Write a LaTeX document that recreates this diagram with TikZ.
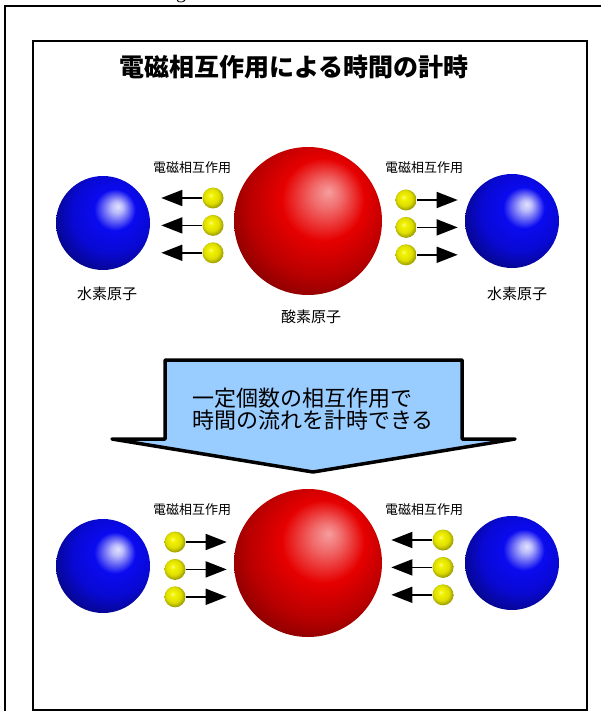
\documentclass[tikz,border=0pt]{standalone}
\usepackage{fontspec}
\newfontfamily\jp{Noto Sans CJK JP}
\newfontfamily\latin{Liberation Serif}
\usepackage{xcolor}
\usepackage{tikz}
\usetikzlibrary{arrows.meta,positioning}
\definecolor{ink}{HTML}{000000}
\definecolor{hblue}{HTML}{0A0AF0}
\definecolor{ored}{HTML}{E60000}
\definecolor{ylw}{HTML}{F2F200}
\definecolor{skyfill}{HTML}{99CCFF}
% spheres lit from the upper right
\pgfdeclareradialshading{hydrogen}{\pgfpoint{8bp}{9bp}}{%
  color(0bp)=(white!88!hblue); color(3bp)=(white!72!hblue);
  color(11bp)=(hblue); color(21bp)=(hblue!88!black);
  color(33bp)=(hblue!50!black); color(50bp)=(hblue!50!black)}
\pgfdeclareradialshading{oxygen}{\pgfpoint{7bp}{10bp}}{%
  color(0bp)=(white!62!ored); color(5bp)=(white!42!ored);
  color(14bp)=(ored); color(24bp)=(ored!80!black);
  color(36bp)=(ored!45!black); color(50bp)=(ored!45!black)}
\pgfdeclareradialshading{photonball}{\pgfpoint{-6bp}{7bp}}{%
  color(0bp)=(white!55!ylw); color(6bp)=(ylw); color(18bp)=(ylw!92!black);
  color(28bp)=(ylw!62!black); color(50bp)=(ylw!62!black)}
\tikzset{
  boxframe/.style={draw=ink,line width=2pt},
  hatom/.style={circle,minimum size=94pt,inner sep=0pt,shading=hydrogen},
  oatom/.style={circle,minimum size=148pt,inner sep=0pt,shading=oxygen},
  photon/.style={circle,minimum size=21pt,inner sep=0pt,shading=photonball},
  force/.style={-{Triangle[length=21pt,width=16pt]},line width=1.6pt,draw=ink},
  emlabel/.style={font=\jp\fontsize{13}{13}\selectfont,inner sep=0pt},
  atomlabel/.style={font=\jp\fontsize{15}{15}\selectfont,inner sep=0pt},
  bigarrow/.style={draw=ink,fill=skyfill,line width=3.5pt,line join=round}
}

\begin{document}
\begin{tikzpicture}[x=1pt,y=-1pt]
\useasboundingbox (0,0) rectangle (600,711);
\draw[boxframe] (5,6) rectangle (660,770);
\draw[boxframe] (33,41) rectangle (587,710);
\node[anchor=base,font=\latin\fontsize{20}{20}\selectfont] (cut) at (181,-1) {g};
\node[font=\jp\bfseries\fontsize{25}{25}\selectfont] (title) at (294,67) {電磁相互作用による時間の計時};

% oxygen emits towards both hydrogens
\node[hatom] (hl) at (103,223) {};
\node[oatom] (o) at (308,221) {};
\node[hatom] (hr) at (512,221) {};
\node[atomlabel,below=16pt of hl,xshift=4pt] (hllab) {水素原子};
\node[atomlabel,below=14pt of o,xshift=3pt] (olab) {酸素原子};
\node[atomlabel,below=18pt of hr,xshift=5pt] (hrlab) {水素原子};
\node[emlabel] (ema) at (192,168) {電磁相互作用};
\node[emlabel] (emb) at (424,168) {電磁相互作用};
\node[photon] (pa1) at (213,198) {};
\node[photon,below=6pt of pa1] (pa2) {};
\node[photon,below=6pt of pa2] (pa3) {};
\coordinate[left=41pt of pa1] (ta1);
\coordinate[left=41pt of pa2] (ta2);
\coordinate[left=41pt of pa3] (ta3);
\node[photon] (pb1) at (406,200) {};
\node[photon,below=6pt of pb1] (pb2) {};
\node[photon,below=6pt of pb2] (pb3) {};
\coordinate[right=41pt of pb1] (tb1);
\coordinate[right=41pt of pb2] (tb2);
\coordinate[right=41pt of pb3] (tb3);
\draw[force] (pa1)--(ta1); \draw[force] (pa2)--(ta2); \draw[force] (pa3)--(ta3);
\draw[force] (pb1)--(tb1); \draw[force] (pb2)--(tb2); \draw[force] (pb3)--(tb3);

% big down arrow
\draw[bigarrow] (165,360) -- (462,360) -- (462,439) -- (515,439) -- (313,472)
  -- (112,439) -- (165,439) -- cycle;
\node[align=left,inner sep=0pt,font=\jp\fontsize{22}{22.5}\selectfont] (msg) at (313,409)
  {一定個数の相互作用で\\時間の流れを計時できる};

% hydrogens send them back
\node[hatom] (hl2) at (103,566) {};
\node[oatom] (o2) at (308,563) {};
\node[hatom] (hr2) at (512,563) {};
\node[emlabel] (emc) at (192,510) {電磁相互作用};
\node[emlabel] (emd) at (424,510) {電磁相互作用};
\node[photon] (pc1) at (175,542) {};
\node[photon,below=6pt of pc1] (pc2) {};
\node[photon,below=6pt of pc2] (pc3) {};
\coordinate[right=41pt of pc1] (tc1);
\coordinate[right=41pt of pc2] (tc2);
\coordinate[right=41pt of pc3] (tc3);
\node[photon] (pd1) at (443,540) {};
\node[photon,below=6pt of pd1] (pd2) {};
\node[photon,below=6pt of pd2] (pd3) {};
\coordinate[left=41pt of pd1] (td1);
\coordinate[left=41pt of pd2] (td2);
\coordinate[left=41pt of pd3] (td3);
\draw[force] (pc1)--(tc1); \draw[force] (pc2)--(tc2); \draw[force] (pc3)--(tc3);
\draw[force] (pd1)--(td1); \draw[force] (pd2)--(td2); \draw[force] (pd3)--(td3);
\end{tikzpicture}
\end{document}
